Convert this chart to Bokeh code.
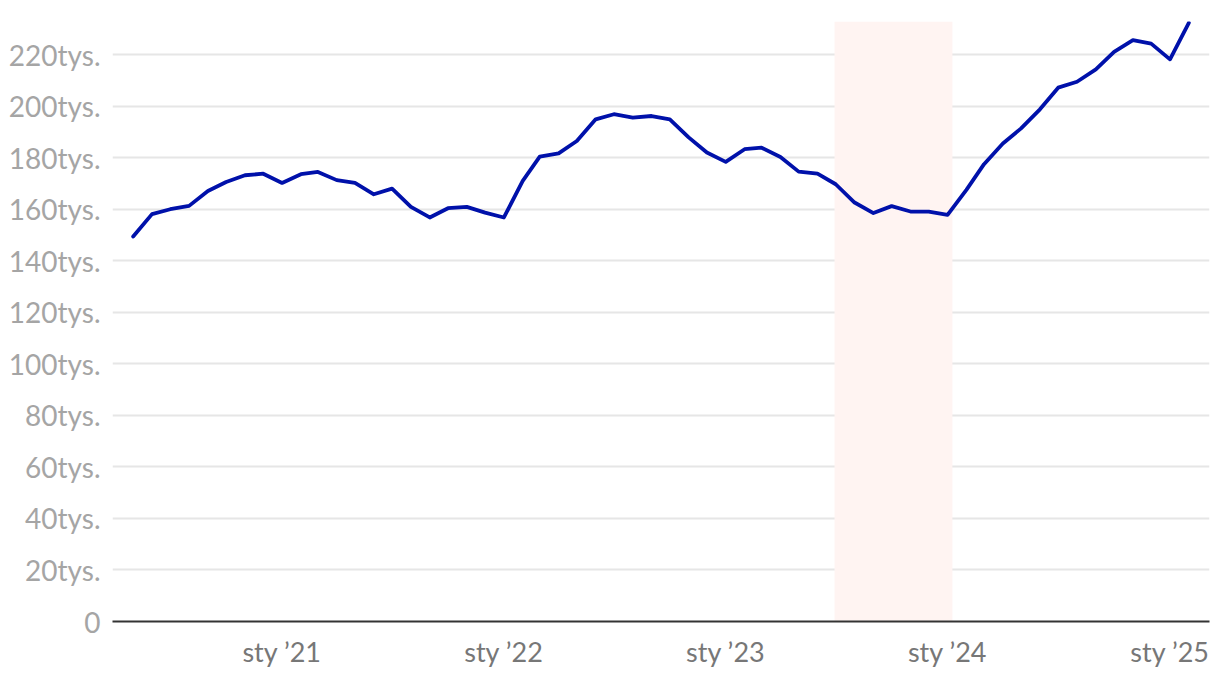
import pandas as pd
from bokeh.plotting import figure
from bokeh.models import FixedTicker, Range1d, BoxAnnotation
from bokeh.embed import file_html
from bokeh.resources import INLINE

# ---- data ----
start_month = "2020-05-01"
values_k = [149.5, 158.2, 160.1, 161.4, 167.2, 170.7, 173.3, 173.9,
            170.3, 173.7, 174.6, 171.4, 170.3, 165.9, 168.1, 161.0,
            156.9, 160.5, 161.0, 158.8,
            156.9, 171.1, 180.5, 181.8, 186.6, 195.0, 197.0, 195.7,
            196.3, 195.0, 188.0, 182.1,
            178.5, 183.4, 184.0, 180.4, 174.7, 173.9, 169.8, 162.7,
            158.6, 161.3, 159.2, 159.2,
            157.9, 167.6, 177.6, 185.6, 191.5, 198.9, 207.3, 209.6,
            214.4, 221.2, 225.8, 224.4,
            218.3, 232.5]
months = pd.date_range(start_month, periods=len(values_k), freq="MS")
values = [v * 1000 for v in values_k]

x_tick_dates = ["2021-01-01", "2022-01-01", "2023-01-01", "2024-01-01", "2025-01-01"]
x_tick_labels = ["sty \u201921", "sty \u201922", "sty \u201923", "sty \u201924", "sty \u201925"]
y_ticks = [0, 20000, 40000, 60000, 80000, 100000, 120000, 140000, 160000,
           180000, 200000, 220000]
y_tick_labels = ["0", "20tys.", "40tys.", "60tys.", "80tys.", "100tys.", "120tys.",
                 "140tys.", "160tys.", "180tys.", "200tys.", "220tys."]
band_start, band_end = "2023-06-29", "2024-01-09"
x_start, x_end = "2020-03-28", "2025-03-07"

FONT = "Lato"

def ms(d):
    return pd.Timestamp(d).value / 1e6

p = figure(width=1220, height=678, x_axis_type="datetime",
           output_backend="svg", toolbar_location=None,
           x_range=Range1d(ms(x_start), ms(x_end)),
           y_range=Range1d(0, 233000),
           min_border_left=112, min_border_right=11,
           min_border_top=21, min_border_bottom=57)
p.outline_line_color = None
p.background_fill_color = "white"
p.border_fill_color = "white"

p.add_layout(BoxAnnotation(left=ms(band_start), right=ms(band_end),
                           fill_color="#fff4f2", fill_alpha=1.0,
                           line_color=None, level="underlay"))

p.line(months, values, line_color="#0011aa", line_width=3.8,
       line_join="round", line_cap="round")

# x axis
xt = [ms(d) for d in x_tick_dates]
p.xaxis.ticker = FixedTicker(ticks=xt)
p.xaxis.major_label_overrides = {t: l for t, l in zip(xt, x_tick_labels)}
p.xaxis.major_tick_line_color = None
p.xaxis.minor_tick_line_color = None
p.xaxis.axis_line_color = "#333333"
p.xaxis.axis_line_width = 2
p.xaxis.major_label_text_font = FONT
p.xaxis.major_label_text_font_size = "27px"
p.xaxis.major_label_text_color = "#777777"
p.xaxis.major_label_standoff = 7

# y axis
p.yaxis.ticker = FixedTicker(ticks=y_ticks)
p.yaxis.major_label_overrides = {t: l for t, l in zip(y_ticks, y_tick_labels)}
p.yaxis.major_tick_line_color = None
p.yaxis.minor_tick_line_color = None
p.yaxis.axis_line_color = None
p.yaxis.major_label_text_font = FONT
p.yaxis.major_label_text_font_size = "28px"
p.yaxis.major_label_text_color = "#a5a5a5"
p.yaxis.major_label_standoff = 6

p.xgrid.grid_line_color = None
p.ygrid.grid_line_color = "#e6e6e6"
p.ygrid.grid_line_width = 2

open("out.html", "w").write(file_html(p, INLINE))
